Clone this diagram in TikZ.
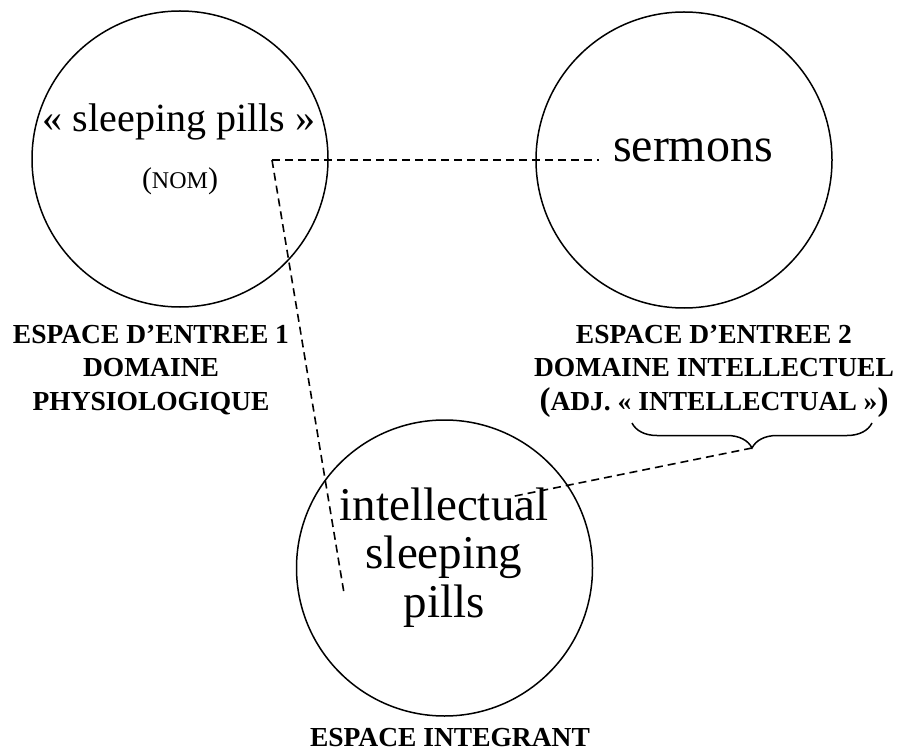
\documentclass[tikz,border=0pt]{standalone}
\usepackage{fontspec}
\setmainfont{Liberation Serif}
\usetikzlibrary{decorations.pathreplacing}
\newcommand{\bigparen}[1]{{\fontsize{33}{34}\selectfont #1}}
\begin{document}
\begin{tikzpicture}[x=1pt,y=-1pt,
  space/.style={circle,draw,line width=1.5pt,minimum size=296pt,inner sep=0pt},
  conn/.style={dashed,dash pattern=on 8pt off 5pt,line width=1.6pt},
  lab/.style={font=\fontsize{27.5}{33.5}\selectfont\bfseries,align=center,anchor=base,inner sep=0pt},
  big/.style={anchor=base,inner sep=0pt}]
\useasboundingbox (0,0) rectangle (902,751);
% circles
\node[space] (c1) at (180,159) {};
\node[space] (c2) at (684,160) {};
\node[space] (c3) at (444.5,568) {};
% texts in circles
\node[big,font=\fontsize{40}{48}\selectfont] (t1) at (179,132) {« sleeping pills »};
\node[big] (t1b) at (180,189) {\fontsize{30}{36}\selectfont(\fontsize{24}{30}\selectfont NOM\fontsize{30}{36}\selectfont)};
\node[big,font=\fontsize{48}{58}\selectfont,inner xsep=14pt] (t2) at (693,162) {sermons};
\node[big,font=\fontsize{47}{48.5}\selectfont,align=center] (t3) at (444,617) {intellectual\\sleeping\\pills};
% labels (base anchor = last line)
\node[lab] (l1) at (151,410) {ESPACE D’ENTREE 1\\DOMAINE\\PHYSIOLOGIQUE};
\node[lab] (l2) at (714,410) {ESPACE D’ENTREE 2\\DOMAINE INTELLECTUEL\\\bigparen{(}ADJ. « INTELLECTUAL »\bigparen{)}};
\node[lab] (l3) at (450,746) {ESPACE INTEGRANT};
% connectors
\coordinate (corner) at (272,160);
\coordinate (vend) at (344,593);
\coordinate (bl) at (632,423);
\coordinate (br) at (872,423);
\coordinate (tip) at (752,448);
\coordinate (lend) at (510,497);
\draw[conn] (corner) -- (corner -| t2.west);
\draw[conn] (corner) -- (vend);
\draw[line width=1.5pt,decorate,decoration={brace,mirror,amplitude=25pt}] (bl) -- (br);
\draw[conn] (tip) -- (lend);
\end{tikzpicture}
\end{document}
